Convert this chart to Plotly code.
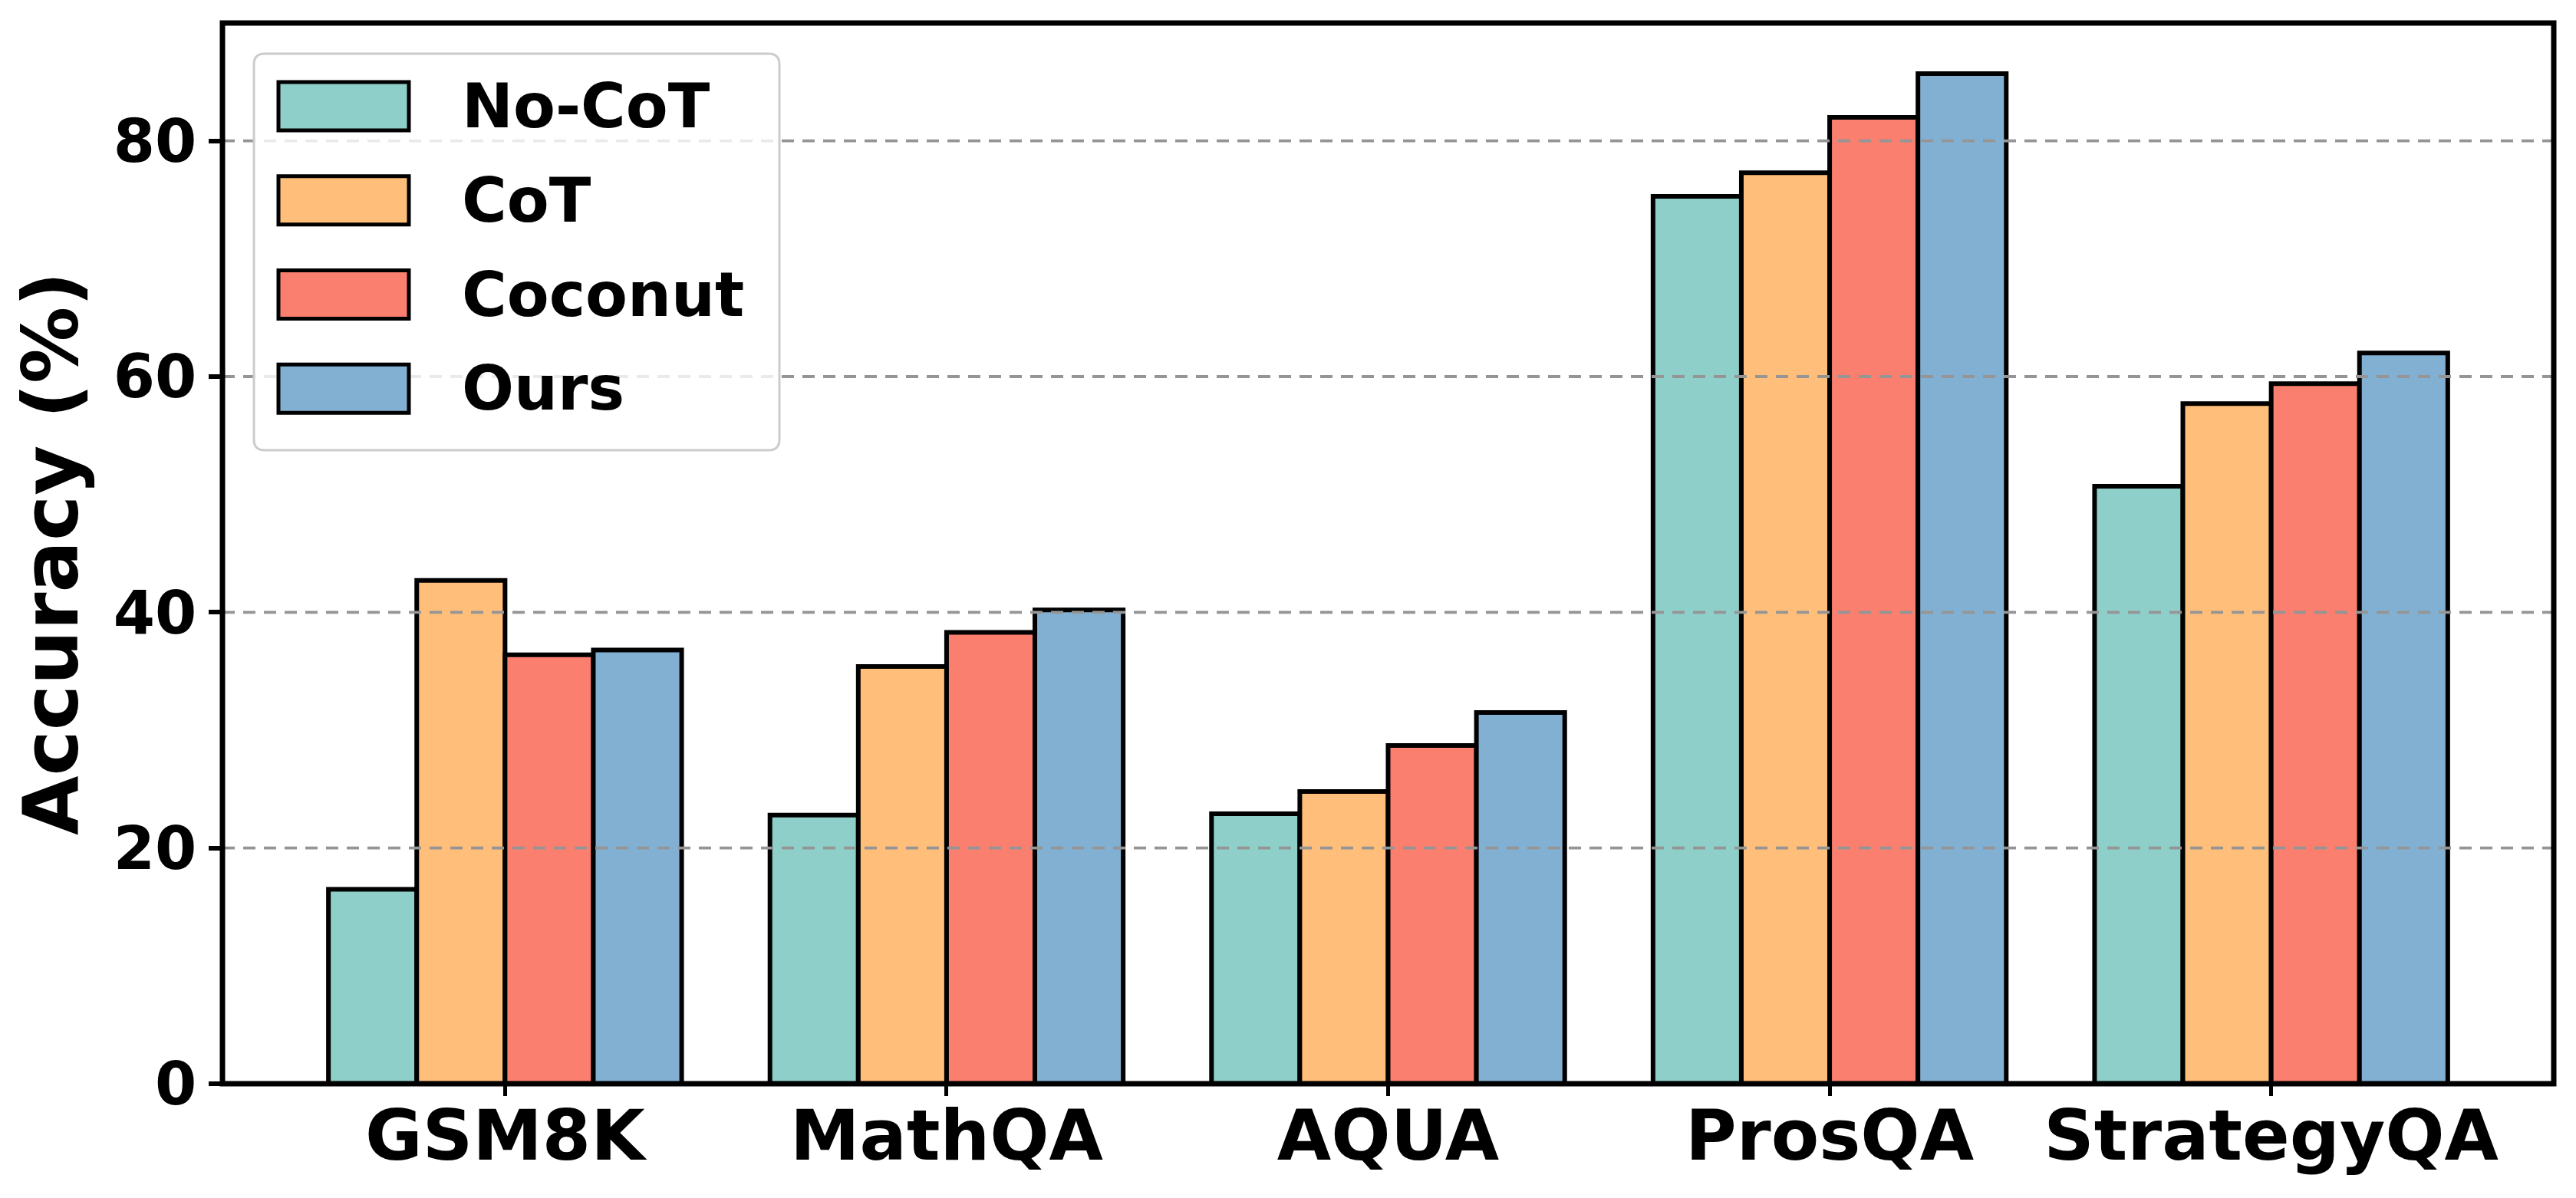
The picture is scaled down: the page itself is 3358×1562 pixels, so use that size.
import plotly.graph_objects as go

# ---- data ----
categories = ["GSM8K", "MathQA", "AQUA", "ProsQA", "StrategyQA"]
series_names = ["No-CoT", "CoT", "Coconut", "Ours"]
no_cot = [16.5, 22.8, 22.9, 75.3, 50.7]
cot = [42.7, 35.4, 24.8, 77.3, 57.7]
coconut = [36.4, 38.3, 28.7, 82.0, 59.4]
ours = [36.8, 40.2, 31.5, 85.7, 62.0]
y_ticks = [0, 20, 40, 60, 80]

colors = ["#8ECFC9", "#FFBE7A", "#FA7F6F", "#82B0D2"]
values = [no_cot, cot, coconut, ours]

OFF = 8  # default page body margin
W, H = 3358 - OFF, 1562 - OFF
# plot area in page pixels: left 290, right 3329, top 30, bottom 1413
L, T = 290 - OFF, 30 - OFF
R = W - (3329 - OFF)
B = H - (1413 - OFF)
PW, PH = W - L - R, H - T - B
FONT = "DejaVu Sans"


def px(xp):
    return (xp - OFF - L) / PW


def py(yp):
    return (H - B - (yp - OFF)) / PH


fig = go.Figure()
for name, vals, col in zip(series_names, values, colors):
    fig.add_trace(go.Bar(
        x=categories, y=vals, name=name,
        marker=dict(color=col, line=dict(color="black", width=6)),
        showlegend=False,
    ))

shapes = []
# dashed grid lines drawn above bars
for yv in y_ticks[1:]:
    shapes.append(dict(type="line", xref="paper", yref="y", x0=0, x1=1, y0=yv, y1=yv,
                       line=dict(color="#959595", width=3.8, dash="16px,11px"),
                       layer="above"))

# axes frame (spines centred on the plot edges)
shapes.append(dict(type="rect", xref="paper", yref="paper", x0=0, x1=1, y0=0, y1=1,
                   line=dict(color="black", width=7), fillcolor="rgba(0,0,0,0)",
                   layer="above"))

# custom legend box (rounded)
bx0, bx1, by0, by1, r = 331, 1016, 70, 587, 14
rx, ry = r / PW, r / PH
X0, X1, Y0, Y1 = px(bx0), px(bx1), py(by1), py(by0)
path = (f"M {X0+rx},{Y1} L {X1-rx},{Y1} Q {X1},{Y1} {X1},{Y1-ry} "
        f"L {X1},{Y0+ry} Q {X1},{Y0} {X1-rx},{Y0} L {X0+rx},{Y0} "
        f"Q {X0},{Y0} {X0},{Y0+ry} L {X0},{Y1-ry} Q {X0},{Y1} {X0+rx},{Y1} Z")
shapes.append(dict(type="path", xref="paper", yref="paper", path=path,
                   fillcolor="rgba(255,255,255,0.8)",
                   line=dict(color="#cccccc", width=3), layer="above"))

annotations = []
row_centers = [138.5, 261.3, 384.0, 506.8]
for name, col, cy in zip(series_names, colors, row_centers):
    shapes.append(dict(type="rect", xref="paper", yref="paper",
                       x0=px(363), x1=px(533), y0=py(cy + 31.5), y1=py(cy - 31.5),
                       fillcolor=col, line=dict(color="black", width=5), layer="above"))
    annotations.append(dict(xref="paper", yref="paper", x=px(600), y=py(cy),
                            xanchor="left", yanchor="middle", showarrow=False,
                            text=name,
                            font=dict(family=FONT, size=80, color="black", weight="bold")))

fig.update_layout(
    width=W, height=H,
    margin=dict(l=L, r=R, t=T, b=B, autoexpand=False),
    paper_bgcolor="white", plot_bgcolor="white",
    barmode="group", bargap=0.2, bargroupgap=0,
    shapes=shapes, annotations=annotations,
    showlegend=False,
)
fig.update_xaxes(
    range=[-0.64, 4.64],
    showline=False,
    ticks="outside", ticklen=15, tickwidth=5, tickcolor="black",
    ticklabelstandoff=-26,
    showgrid=False, zeroline=False,
    tickfont=dict(family=FONT, size=91, color="black", weight="bold"),
)
fig.update_yaxes(
    range=[0, 90],
    tickvals=y_ticks, ticktext=[str(v) for v in y_ticks],
    showline=False,
    ticks="outside", ticklen=17, tickwidth=6, tickcolor="black",
    showgrid=False, zeroline=False,
    tickfont=dict(family=FONT, size=78, color="black", weight="bold"),
    title=dict(text="Accuracy (%)", standoff=16,
               font=dict(family=FONT, size=100, color="black", weight="bold")),
)

fig.write_html("out.html")
